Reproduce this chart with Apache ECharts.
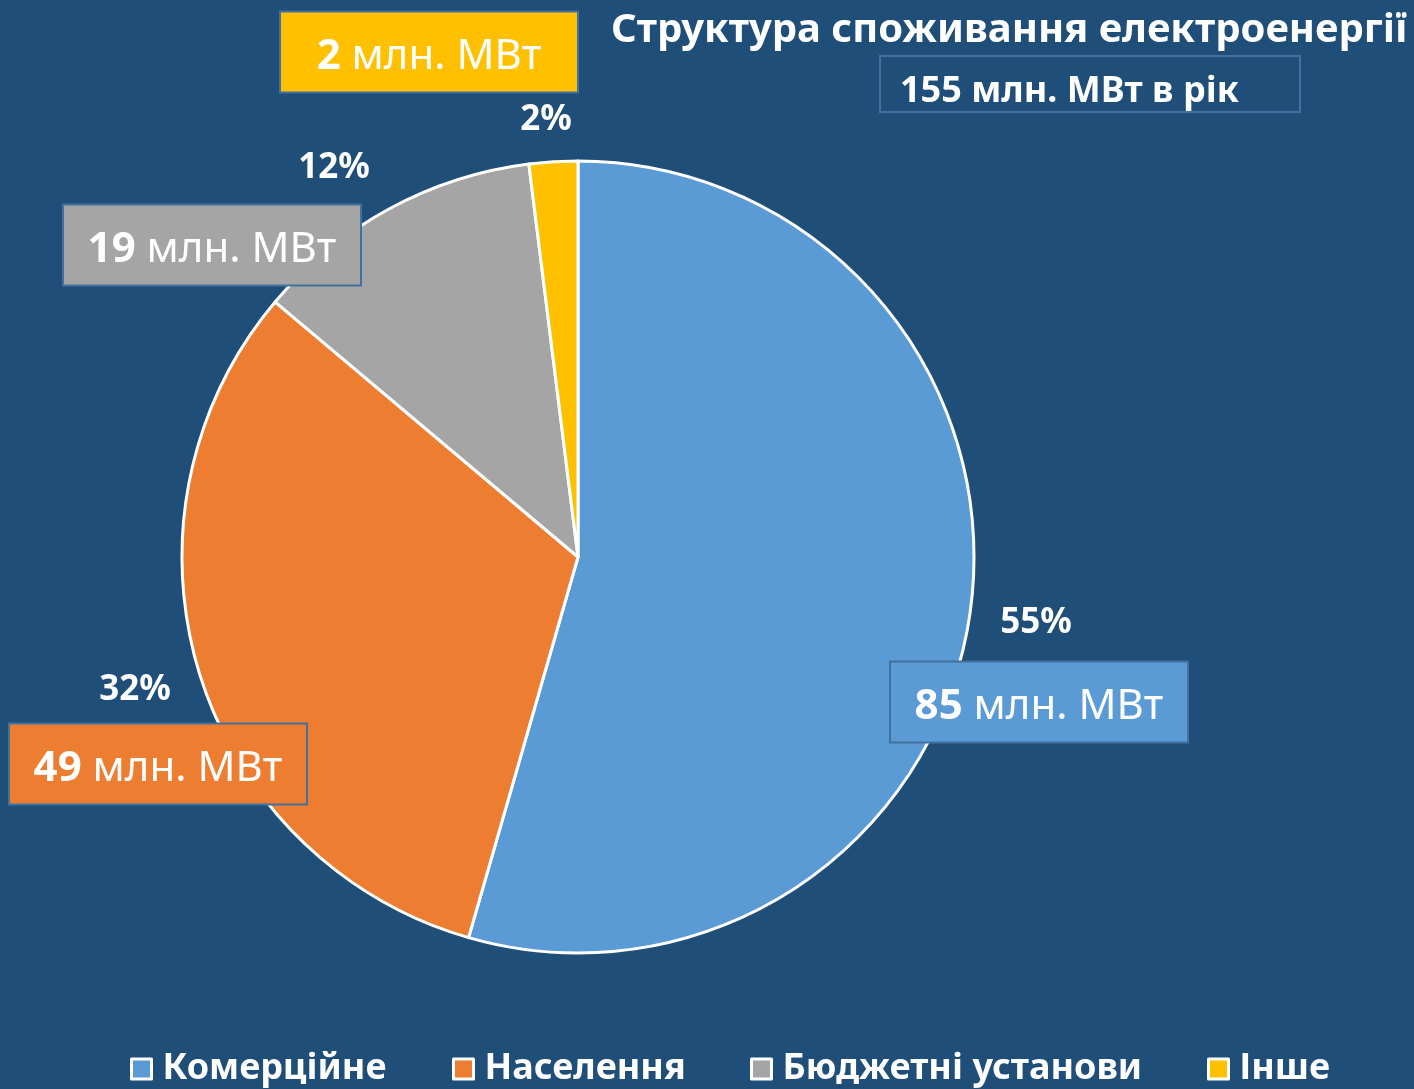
<!DOCTYPE html>
<html>
<head>
<meta charset="utf-8">
<script src="https://cdn.jsdelivr.net/npm/echarts@6/dist/echarts.min.js"></script>
<style>
html,body{margin:0;padding:0;background:#1F4E79;}
#chart{width:1414px;height:1089px;}
</style>
</head>
<body>
<div id="chart"></div>
<script>
// ---- data ----
const categories = ['Комерційне', 'Населення', 'Бюджетні установи', 'Інше'];
const percents = [55, 32, 12, 2];          // slice shares, %
const volumes = [85, 49, 19, 2];           // млн. МВт
const totalVolume = 155;                   // млн. МВт в рік
const titleText = 'Структура споживання електроенергії';
const unitText = 'млн. МВт';

// ---- styling / layout (not data) ----
const colors = ['#5B9BD5', '#ED7D31', '#A5A5A5', '#FFC000'];
const bg = '#1F4E79';
const boxBorder = '#41719C';
const FONT = '"Noto Sans", "Open Sans", sans-serif';
const pctPos = [[1036, 623], [135, 690], [334, 168], [546, 120]];
const boxPos = [[1039, 702], [158, 764], [212, 245], [429, 52]];
const legendLeft = [130, 452, 750, 1207];

const chart = echarts.init(document.getElementById('chart'));

const sliceData = categories.map((c, i) => ({ name: c, value: percents[i] }));

const option = {
  backgroundColor: bg,
  animation: false,
  color: colors,
  title: {
    text: titleText,
    left: 611,
    top: 8,
    padding: 0,
    textStyle: { color: '#fff', fontFamily: FONT, fontWeight: 'bold', fontSize: 40, lineHeight: 46 }
  },
  graphic: [
    {
      type: 'rect',
      shape: { x: 880, y: 56, width: 420, height: 56 },
      style: { fill: 'none', stroke: boxBorder, lineWidth: 2 }
    },
    {
      type: 'text',
      style: {
        x: 900, y: 92,
        text: totalVolume + ' ' + unitText + ' в рік',
        fill: '#fff', font: 'bold 36px ' + FONT,
        verticalAlign: 'middle'
      }
    }
  ],
  legend: categories.map((c, i) => ({
    data: [{ name: c, itemStyle: { color: colors[i], borderColor: '#fff', borderWidth: 3 } }],
    left: legendLeft[i],
    top: 1043,
    padding: 0,
    icon: 'rect',
    itemWidth: 20,
    itemHeight: 20,
    selectedMode: false,
    textStyle: { color: '#fff', fontFamily: FONT, fontWeight: 'bold', fontSize: 36, lineHeight: 40, padding: [12, 0, 0, 6] }
  })),
  series: [
    {
      type: 'pie',
      center: [578, 557],
      radius: 396,
      startAngle: 90,
      clockwise: true,
      data: sliceData,
      itemStyle: { borderColor: '#fff', borderWidth: 3 },
      emphasis: { disabled: true },
      labelLine: { show: false },
      label: {
        show: true,
        position: 'outside',
        formatter: p => '{b|' + volumes[p.dataIndex] + '}{r| ' + unitText + '}',
        width: 296,
        height: 69,
        padding: [10, 0, 0, 0],
        align: 'center',
        verticalAlign: 'middle',
        borderColor: boxBorder,
        borderWidth: 2,
        backgroundColor: 'inherit',
        rich: {
          b: { color: '#fff', fontFamily: FONT, fontWeight: 'bold', fontSize: 42, lineHeight: 69 },
          r: { color: '#fff', fontFamily: FONT, fontWeight: 'normal', fontSize: 42, lineHeight: 69 }
        }
      },
      labelLayout: p => ({
        x: boxPos[p.dataIndex][0],
        y: boxPos[p.dataIndex][1],
        align: 'center',
        verticalAlign: 'middle'
      })
    },
    {
      type: 'pie',
      center: [578, 557],
      radius: 396,
      startAngle: 90,
      clockwise: true,
      silent: true,
      data: sliceData,
      itemStyle: { color: 'rgba(0,0,0,0)', borderWidth: 0 },
      emphasis: { disabled: true },
      labelLine: { show: false },
      label: {
        show: true,
        position: 'outside',
        formatter: p => percents[p.dataIndex] + '%',
        color: '#fff',
        fontFamily: FONT,
        fontWeight: 'bold',
        fontSize: 35
      },
      labelLayout: p => ({
        x: pctPos[p.dataIndex][0],
        y: pctPos[p.dataIndex][1],
        align: 'center',
        verticalAlign: 'middle'
      })
    }
  ]
};
chart.setOption(option);
</script>
</body>
</html>
